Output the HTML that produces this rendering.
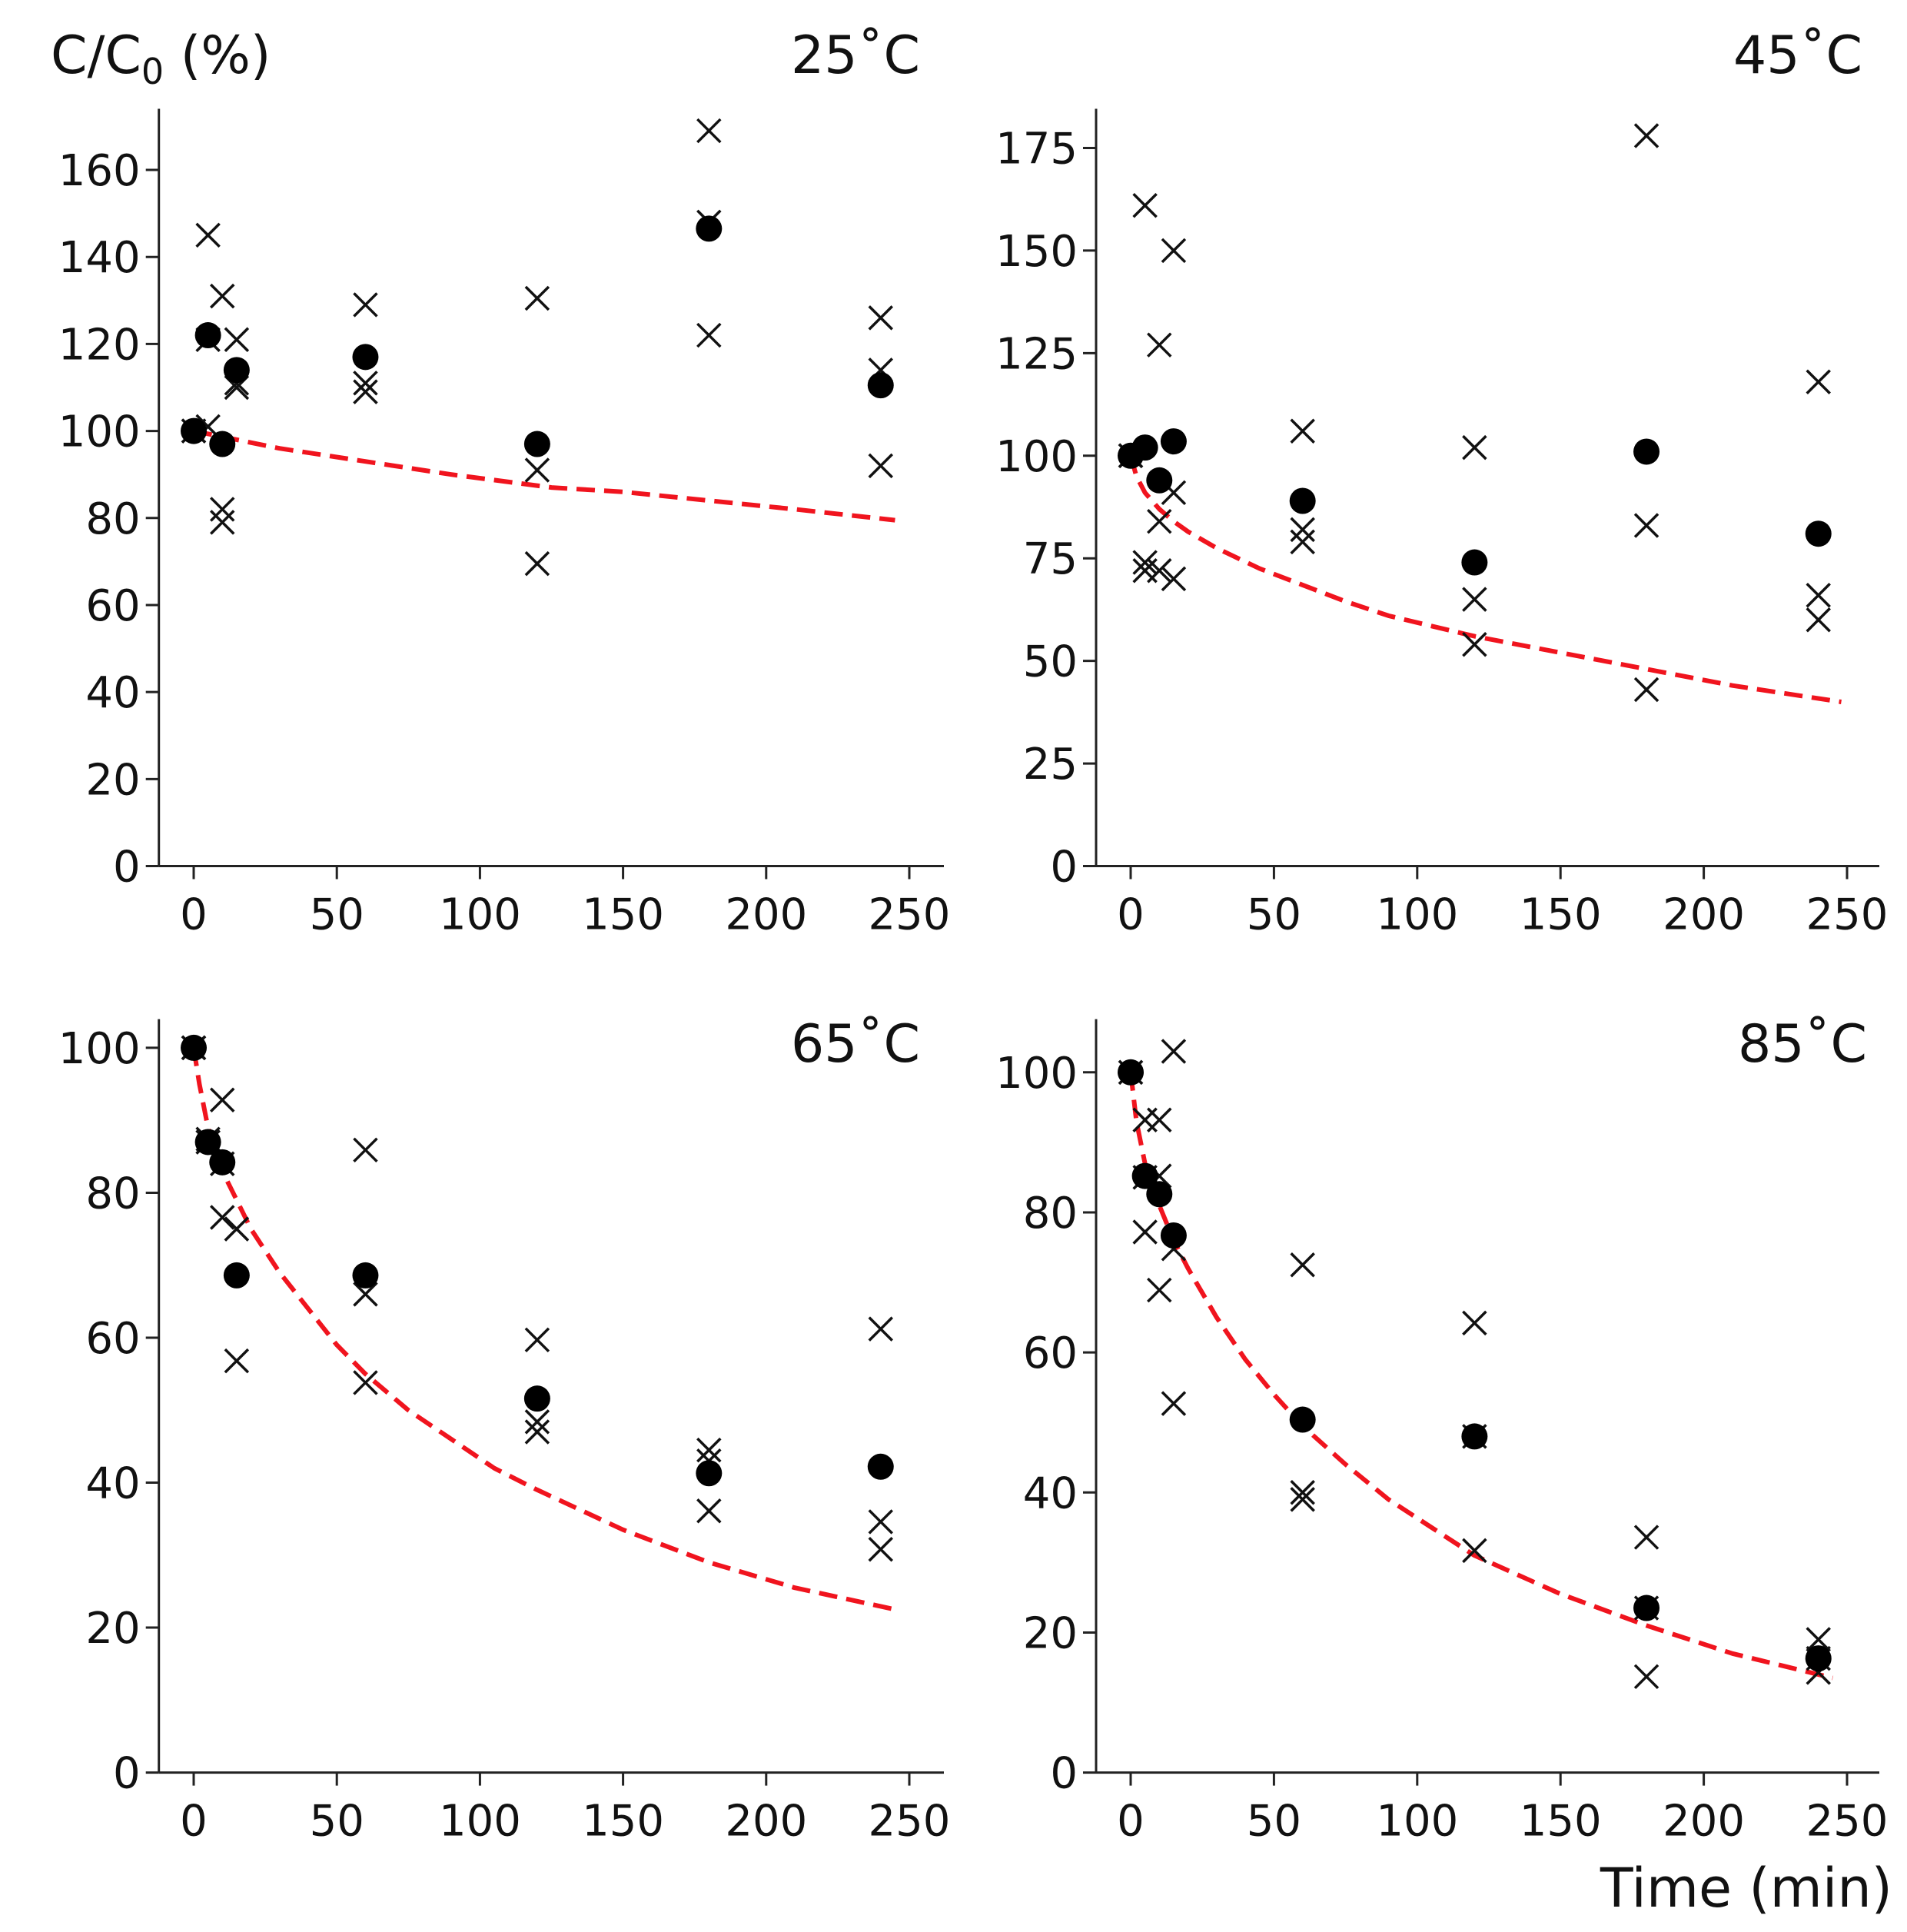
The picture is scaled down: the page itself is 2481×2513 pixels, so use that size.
<!DOCTYPE html>
<html><head><meta charset="utf-8"><style>
html,body{margin:0;padding:0;background:#fff}
svg{display:block}
text{font-family:"DejaVu Sans","Liberation Sans",sans-serif;fill:#111}
</style></head><body>
<svg id="fig" width="2481" height="2513" viewBox="0 0 2481 2513" xmlns="http://www.w3.org/2000/svg"></svg>
<script>
// ---- shared data ----
const times = [0,5,10,15,60,120,180,240];
const xTicks = [0,50,100,150,200,250];

// 25°C
const mean25 = [100,122,97,114,117,97,146.5,110.5];
const repA25 = [100,145,131,121,129,130.5,169,126];
const repB25 = [100,121,82,111,111,91,148,114];
const repC25 = [100,101,79,110,109,69.5,122,92];
const fitT25 = [0,30,60,90,125,150,180,210,245];
const fitV25 = [100,96,93,90,87,86,84,82,79.5];
const yTicks25 = [0,20,40,60,80,100,120,140,160];

// 45°C
const mean45 = [100,102,94,103.5,89,74,101,81];
const repA45 = [100,161,127,150,106,102,178,118];
const repB45 = [100,74,84,91,82,65,83,66];
const repC45 = [100,72,72,70,79,54,43,60];
const fitT45 = [0,2,5,10,15,20,30,45,60,75,90,105,120,150,180,210,248];
const fitV45 = [100,95,91,87,84,81.5,77.5,72.5,68.5,64.5,61,58.5,56,52,48,44,40];
const yTicks45 = [0,25,50,75,100,125,150,175];

// 65°C
const mean65 = [100,87,84.2,68.6,68.6,51.6,41.3,42.2];
const repA65 = [100,87.4,92.8,75,85.9,59.7,44.5,61.2];
const repB65 = [100,87,76.6,56.8,66,48.4,36.1,34.6];
const repC65 = [100,87,84,75,53.8,47,43,30.8];
const fitT65 = [0,2,5,10,15,20,30,40,50,60,75,90,105,120,150,180,210,245];
const fitV65 = [100,95,89,83,79,75,69,64,59,55,50,46,42,39,33.5,29,25.5,22.5];
const yTicks65 = [0,20,40,60,80,100];

// 85°C
const mean85 = [100,85.2,82.6,76.7,50.4,48,23.5,16.3];
const repA85 = [100,93.2,93.2,103,72.5,64.2,33.6,19];
const repB85 = [100,77.2,85.2,74.8,40,48,13.7,14.3];
const repC85 = [100,85,68.9,52.7,39,31.7,23.5,16.3];
const fitT85 = [0,2,5,10,15,20,30,40,50,60,75,90,105,120,150,180,210,245];
const fitV85 = [100,93,87,81,76,72,65,59,54,49.5,44,39,35,31,25.5,21,17,13.5];
const yTicks85 = [0,20,40,60,80,100];

const NS = "http://www.w3.org/2000/svg";
const fig = document.getElementById('fig');
function el(tag, attrs, parent){
  const e = document.createElementNS(NS, tag);
  for (const k in attrs) e.setAttribute(k, attrs[k]);
  (parent||fig).appendChild(e);
  return e;
}

const panels = [
  {id:'25c', title:'25˚C', mean:mean25, reps:[repA25,repB25,repC25], fitT:fitT25, fitV:fitV25, yTicks:yTicks25,
   axX:206.7, x0:252, x250:1183, xEnd:1228, yPix0:1126.5, yRef:160, yRefPix:221, top:141.5, titleX:1197, titleY:95},
  {id:'45c', title:'45˚C', mean:mean45, reps:[repA45,repB45,repC45], fitT:fitT45, fitV:fitV45, yTicks:yTicks45,
   axX:1426, x0:1471, x250:2403, xEnd:2445, yPix0:1126.5, yRef:175, yRefPix:192.5, top:141.5, titleX:2423, titleY:95},
  {id:'65c', title:'65˚C', mean:mean65, reps:[repA65,repB65,repC65], fitT:fitT65, fitV:fitV65, yTicks:yTicks65,
   axX:206.7, x0:252, x250:1183, xEnd:1228, yPix0:2305.6, yRef:100, yRefPix:1362.9, top:1325.6, titleX:1197, titleY:1381},
  {id:'85c', title:'85˚C', mean:mean85, reps:[repA85,repB85,repC85], fitT:fitT85, fitV:fitV85, yTicks:yTicks85,
   axX:1426, x0:1471, x250:2403, xEnd:2445, yPix0:2305.6, yRef:100, yRefPix:1394.8, top:1325.6, titleX:2429, titleY:1381}
];

panels.forEach(p => {
  const g = el('g', {});
  
  
  const xs = v => p.x0 + (p.x250 - p.x0) * v / 250;
  const ys = v => p.yPix0 - (p.yPix0 - p.yRefPix) * v / p.yRef;

  const ya = el('line', {x1:p.axX, y1:p.top, x2:p.axX, y2:p.yPix0, stroke:'#222', 'stroke-width':3}, g);
  
  
  const xa = el('line', {x1:p.axX, y1:p.yPix0, x2:p.xEnd, y2:p.yPix0, stroke:'#222', 'stroke-width':3}, g);
  
  

  xTicks.forEach(t => {
    const x = xs(t);
    el('line', {x1:x, y1:p.yPix0, x2:x, y2:p.yPix0+17, stroke:'#222', 'stroke-width':3}, g);
    const tx = el('text', {x:x, y:p.yPix0+82, 'font-size':56, 'text-anchor':'middle'}, g);
    tx.textContent = t;
    
    
  });
  p.yTicks.forEach(t => {
    const y = ys(t);
    el('line', {x1:p.axX-17, y1:y, x2:p.axX, y2:y, stroke:'#222', 'stroke-width':3}, g);
    const tx = el('text', {x:p.axX-24, y:y+20, 'font-size':56, 'text-anchor':'end'}, g);
    tx.textContent = t;
    
    
  });

  let d = '';
  p.fitT.forEach((t,i) => { d += (i? 'L':'M') + xs(t).toFixed(1) + ',' + ys(p.fitV[i]).toFixed(1); });
  const fl = el('path', {d:d, fill:'none', stroke:'#f0141e', 'stroke-width':6, 'stroke-dasharray':'24,12', 'stroke-linejoin':'round'}, g);
  
  

  p.reps.forEach(rep => {
    rep.forEach((v,i) => {
      const cx = xs(times[i]), cy = ys(v), s = 15;
      const c = el('path', {d:`M${cx-s},${cy-s}L${cx+s},${cy+s}M${cx-s},${cy+s}L${cx+s},${cy-s}`, stroke:'#111', 'stroke-width':3.5, fill:'none'}, g);
      
      
    });
  });
  p.mean.forEach((v,i) => {
    const c = el('circle', {cx:xs(times[i]), cy:ys(v), r:17, fill:'#000'}, g);
    
    
  });

  const tt = el('text', {x:p.titleX, y:p.titleY, 'font-size':68, 'text-anchor':'end'}, g);
  tt.textContent = p.title;
  
  
});

const yl = el('text', {x:66, y:95, 'font-size':68});
yl.innerHTML = 'C/C<tspan font-size="46" dy="14">0</tspan><tspan dy="-14"> (%)</tspan>';



const xl = el('text', {x:2462, y:2480, 'font-size':70, 'text-anchor':'end'});
xl.textContent = 'Time (min)';


</script>
</body></html>
